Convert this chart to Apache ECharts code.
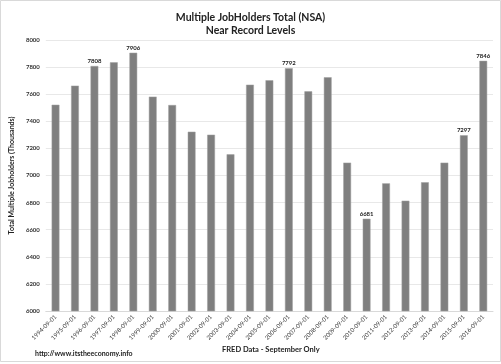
<!DOCTYPE html>
<html><head><meta charset="utf-8">
<script src="https://cdn.jsdelivr.net/npm/echarts@6/dist/echarts.min.js"></script>
<style>html,body{margin:0;padding:0;background:#fff}#c{width:501px;height:364px}</style>
</head><body><div id="c"></div>
<script>
var categories = ["1994-09-01","1995-09-01","1996-09-01","1997-09-01","1998-09-01","1999-09-01","2000-09-01","2001-09-01","2002-09-01","2003-09-01","2004-09-01","2005-09-01","2006-09-01","2007-09-01","2008-09-01","2009-09-01","2010-09-01","2011-09-01","2012-09-01","2013-09-01","2014-09-01","2015-09-01","2016-09-01"];
var values = [7522,7663,7808,7835,7906,7582,7520,7323,7301,7156,7670,7703,7792,7621,7725,7095,6681,6942,6814,6950,7095,7297,7846];
var labeledYears = ["1996-09-01","1998-09-01","2006-09-01","2010-09-01","2015-09-01","2016-09-01"];
var yTicks = [6000,6200,6400,6600,6800,7000,7200,7400,7600,7800,8000];

var F = 'Lato, "Open Sans", sans-serif';
var chart = echarts.init(document.getElementById('c'));
chart.setOption({
  animation:false,
  backgroundColor:'#fff',
  title:{
    text:'Multiple JobHolders Total (NSA)\nNear Record Levels',
    left:'center', top:6,
    textStyle:{fontFamily:F,fontSize:10.5,fontWeight:'bold',color:'#222',lineHeight:13}
  },
  graphic:[
    {type:'rect',shape:{x:0.5,y:0.5,width:500,height:361},style:{fill:'none',stroke:'#d9d9d9',lineWidth:1}},
    {type:'text',left:35,top:350,style:{text:'http://www.itstheeconomy.info',font:'bold 7px '+F,fill:'#222'}},
    {type:'text',left:222,top:346,style:{text:'FRED Data - September Only',font:'bold 7.5px '+F,fill:'#222'}}
  ],
  grid:{left:40,right:8,top:40,bottom:53},
  xAxis:{
    type:'category', data:categories,
    axisLine:{lineStyle:{color:'#d9d9d9'}},
    axisTick:{show:false},
    axisLabel:{rotate:45,fontSize:6,fontFamily:F,color:'#333',margin:5,interval:0}
  },
  yAxis:{
    type:'value', min:yTicks[0], max:yTicks[yTicks.length-1], interval:200,
    name:'Total Multiple Jobholders (Thousands)', nameLocation:'middle', nameGap:21,
    nameTextStyle:{fontFamily:F,fontSize:7,fontWeight:'bold',color:'#222'},
    axisLine:{show:false}, axisTick:{show:false},
    axisLabel:{fontSize:6,fontWeight:'bold',fontFamily:F,color:'#333',margin:6,formatter:function(v){return String(v);}},
    splitLine:{lineStyle:{color:'#e8e8e8',width:1}}
  },
  series:[{
    type:'bar', barWidth:'40%',
    data:values.map(function(v,i){
      var show = labeledYears.indexOf(categories[i])>=0;
      return {value:v,label:{show:show,position:'top',distance:2,fontSize:6,fontWeight:'bold',fontFamily:F,color:'#222'}};
    }),
    itemStyle:{color:'#7f7f7f',borderColor:'#a0a0a0',borderWidth:0.5}
  }]
});
</script></body></html>
